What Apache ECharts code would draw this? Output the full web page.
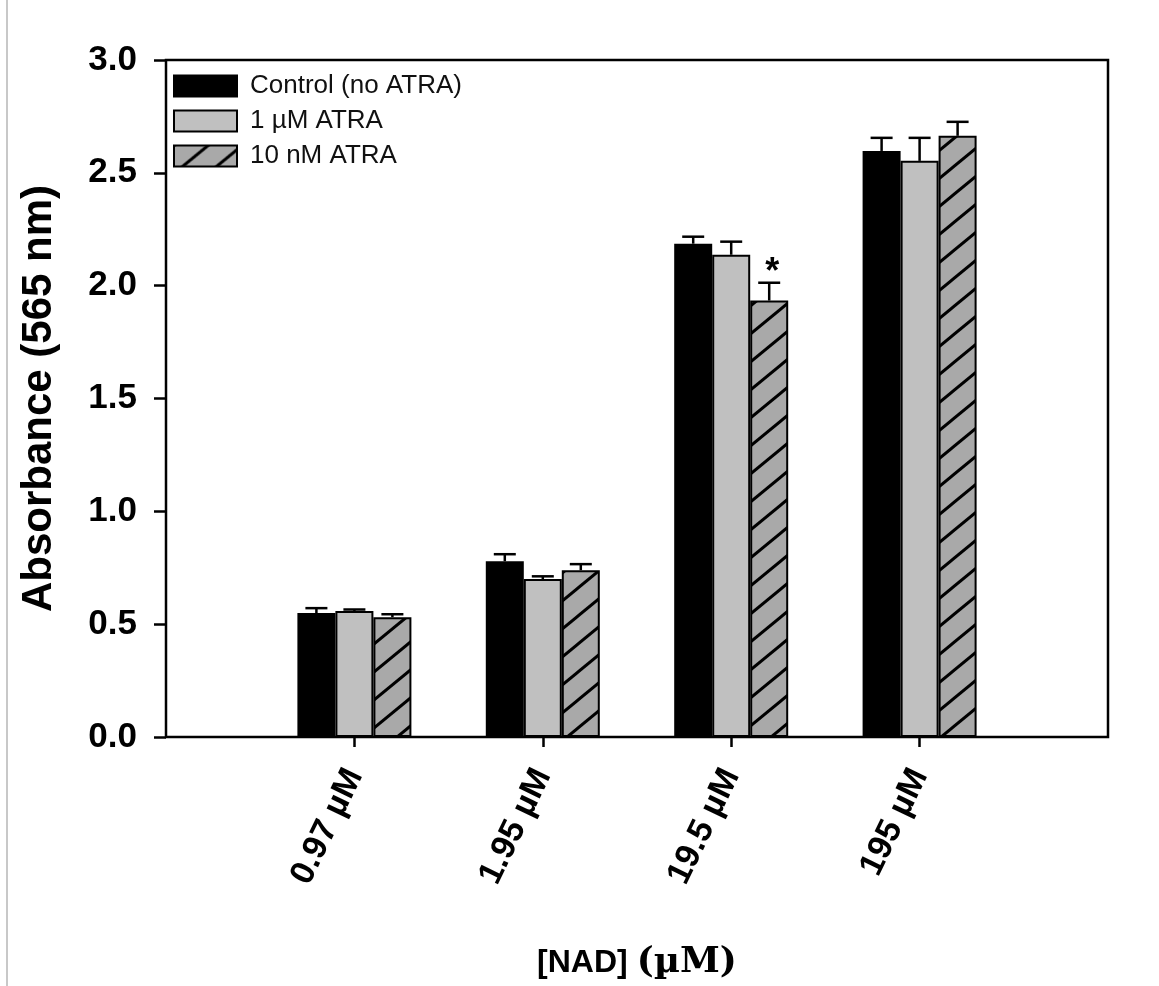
<!DOCTYPE html>
<html>
<head>
<meta charset="utf-8">
<script src="https://cdn.jsdelivr.net/npm/echarts@6/dist/echarts.min.js"></script>
<style>
  html, body { margin: 0; padding: 0; background: #fff; }
  #chart { width: 1159px; height: 986px; }
</style>
</head>
<body>
<div id="chart"></div>
<script>
// ---- data ----
const categories = ['0.97 \u00b5M', '1.95 \u00b5M', '19.5 \u00b5M', '195 \u00b5M'];
const seriesNames = ['Control (no ATRA)', '1 \u00b5M ATRA', '10 nM ATRA'];
const controlMean = [0.549, 0.779, 2.186, 2.597];
const controlErr  = [0.022, 0.031, 0.031, 0.058];
const atra1uMMean = [0.558, 0.700, 2.137, 2.553];
const atra1uMErr  = [0.007, 0.012, 0.058, 0.102];
const atra10nMMean = [0.531, 0.739, 1.934, 2.664];
const atra10nMErr  = [0.013, 0.027, 0.079, 0.062];
const atra10nMSig  = [false, false, true, false];
const yTicks = [0.0, 0.5, 1.0, 1.5, 2.0, 2.5, 3.0];

// ---- build ----
const axisCats = [''].concat(categories, ['']);
function pad(arr) { return [null].concat(arr, [null]); }

const hatch = document.createElement('canvas');
const hw = 34, hh = 28;
hatch.width = hw; hatch.height = hh;
(function () {
  const ctx = hatch.getContext('2d');
  ctx.fillStyle = '#a9a9a9';
  ctx.fillRect(0, 0, hw, hh);
  ctx.strokeStyle = '#000';
  ctx.lineWidth = 3;
  for (let k = 0; k <= 2; k++) {
    ctx.beginPath();
    ctx.moveTo(k * hw + hw, -hh);
    ctx.lineTo(k * hw - 2 * hw, 2 * hh);
    ctx.stroke();
  }
})();

const BAR_W = 38;
const fills = ['#000000', '#c0c0c0', { image: hatch, repeat: 'repeat' }];
const means = [controlMean, atra1uMMean, atra10nMMean];
const errs = [controlErr, atra1uMErr, atra10nMErr];
const sigs = [null, null, atra10nMSig];

const series = [];
seriesNames.forEach((name, s) => {
  series.push({
    name: name,
    type: 'bar',
    barWidth: BAR_W,
    barGap: '0%',
    data: pad(means[s]),
    itemStyle: { color: fills[s], borderColor: '#000', borderWidth: 2 },
    emphasis: { disabled: true },
    z: 2
  });
});
seriesNames.forEach((name, s) => {
  const offset = (s - 1) * BAR_W;
  series.push({
    type: 'custom',
    name: name + ' err',
    z: 5,
    data: means[s].map((m, i) => [i + 1, m, errs[s][i], sigs[s] && sigs[s][i] ? 1 : 0]),
    encode: { x: 0, y: 1 },
    renderItem: function (params, api) {
      const idx = api.value(0);
      const m = api.value(1), e = api.value(2), sg = api.value(3);
      const p0 = api.coord([idx, m]);
      const p1 = api.coord([idx, m + e]);
      const cx = p0[0] + offset;
      const capHalf = 11;
      const children = [
        { type: 'line', shape: { x1: cx, y1: p0[1], x2: cx, y2: p1[1] }, style: { stroke: '#000', lineWidth: 2.5 } },
        { type: 'line', shape: { x1: cx - capHalf, y1: p1[1], x2: cx + capHalf, y2: p1[1] }, style: { stroke: '#000', lineWidth: 2.5 } }
      ];
      if (sg) {
        children.push({
          type: 'text',
          style: { text: '*', x: cx + 3, y: p1[1] - 10, align: 'center', verticalAlign: 'middle',
                   font: 'bold 36px "Liberation Sans", Arial, sans-serif', fill: '#000' }
        });
      }
      return { type: 'group', children: children };
    }
  });
});

const chart = echarts.init(document.getElementById('chart'), null, { renderer: 'canvas' });
chart.setOption({
  backgroundColor: '#ffffff',
  animation: false,
  textStyle: { fontFamily: '"Liberation Sans", Arial, sans-serif' },
  grid: { left: 166, right: 51, top: 60, bottom: 248, show: true, borderColor: '#000', borderWidth: 2.5, backgroundColor: 'transparent' },
  legend: {
    data: seriesNames,
    orient: 'vertical',
    left: 173, top: 73,
    padding: 0,
    itemWidth: 63, itemHeight: 21, itemGap: 9,
    icon: 'rect',
    selectedMode: false,
    textStyle: { fontSize: 26, color: '#111', fontFamily: '"Liberation Sans", Arial, sans-serif', padding: [0, 0, 0, 8] }
  },
  xAxis: {
    type: 'category',
    data: axisCats,
    boundaryGap: false,
    axisLine: { show: false },
    axisTick: { show: true, length: 10, lineStyle: { color: '#000', width: 2.5 }, interval: function (i, v) { return v !== ''; } },
    axisLabel: { interval: 0, rotate: 64, margin: 34, fontSize: 34, fontWeight: 'bold', color: '#000' },
    name: '{a|[NAD] }{b|(\u00b5M)}',
    nameLocation: 'middle',
    nameGap: 208,
    nameTextStyle: {
      rich: {
        a: { fontSize: 32, fontWeight: 'bold', color: '#000', fontFamily: '"Liberation Sans", Arial, sans-serif' },
        b: { fontSize: 36, fontWeight: 'bold', color: '#000', fontFamily: '"DejaVu Serif", "Liberation Serif", serif' }
      }
    }
  },
  yAxis: {
    type: 'value',
    min: 0, max: 3, interval: 0.5,
    axisLine: { show: false },
    splitLine: { show: false },
    axisTick: { show: true, inside: false, length: 12, lineStyle: { color: '#000', width: 2.5 } },
    axisLabel: { margin: 29, fontSize: 35, fontWeight: 'bold', color: '#000', formatter: function (v) { return v.toFixed(1); } },
    name: 'Absorbance (565 nm)',
    nameLocation: 'middle',
    nameGap: 106,
    nameTextStyle: { fontSize: 42, fontWeight: 'bold', color: '#000' }
  },
  graphic: [
    { type: 'line', shape: { x1: 7, y1: 0, x2: 7, y2: 986 }, style: { stroke: '#c8c8c8', lineWidth: 2 }, silent: true }
  ],
  series: series
});
</script>
</body>
</html>
